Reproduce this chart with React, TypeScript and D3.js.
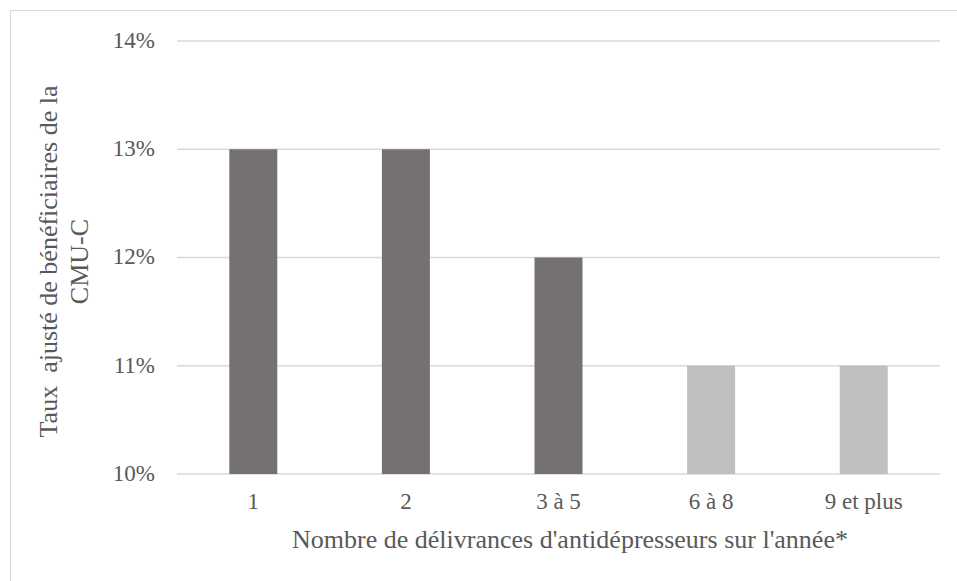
import React from "react";
import * as d3 from "d3";

const categories = ["1", "2", "3 à 5", "6 à 8", "9 et plus"];
const values = [13, 13, 12, 11, 11];
const barColors = ["#767171", "#767171", "#767171", "#BFBFBF", "#BFBFBF"];
const yTicks = [10, 11, 12, 13, 14];
const xTitle = "Nombre de délivrances d'antidépresseurs sur l'année*";
const yTitleLines = ["Taux  ajusté de bénéficiaires de la", "CMU-C"];

const W = 957;
const H = 581;
const left = 177;
const right = 940;
const top = 41;
const bottom = 474;
const font = "'Liberation Serif', 'Times New Roman', serif";
const textColor = "#595959";

export default function App() {
  const x = d3.scaleBand<string>().domain(categories).range([left, right]).paddingInner(0.685).paddingOuter(0.3425);
  const y = d3.scaleLinear().domain([10, 14]).range([bottom, top]);
  const bw = 48;
  return (
    <svg width={W} height={H} style={{ position: "absolute", left: 0, top: 0 }}>
      <rect x={0} y={0} width={W} height={H} fill="#fff" />
      <rect x={10.5} y={10.5} width={W + 10} height={H + 10} fill="none" stroke="#D9D9D9" strokeWidth={1} />
      {yTicks.map((t) => (
        <g key={t}>
          <line x1={left} x2={right} y1={y(t)} y2={y(t)} stroke="#D9D9D9" strokeWidth={1.3} />
          <text x={155} y={y(t)} dy="0.3em" textAnchor="end" fontFamily={font} fontSize={23} fill={textColor}>
            {t}%
          </text>
        </g>
      ))}
      {categories.map((c, i) => {
        const cx = (x(c) as number) + x.bandwidth() / 2;
        return (
          <g key={c}>
            <rect x={cx - bw / 2} y={y(values[i])} width={bw} height={y(10) - y(values[i])} fill={barColors[i]} />
            <text x={cx} y={509} textAnchor="middle" fontFamily={font} fontSize={23} fill={textColor}>
              {c}
            </text>
          </g>
        );
      })}
      <text x={570} y={548} textAnchor="middle" fontFamily={font} fontSize={26} fill={textColor}>
        {xTitle}
      </text>
      <g transform={`translate(0, ${(top + bottom) / 2 + 4})`}>
        {yTitleLines.map((l, i) => (
          <text key={i} transform={`translate(${57 + i * 31}, 0) rotate(-90)`} textAnchor="middle" fontFamily={font} fontSize={26} fill={textColor} style={{ whiteSpace: "pre" }}>
            {l}
          </text>
        ))}
      </g>
    </svg>
  );
}
